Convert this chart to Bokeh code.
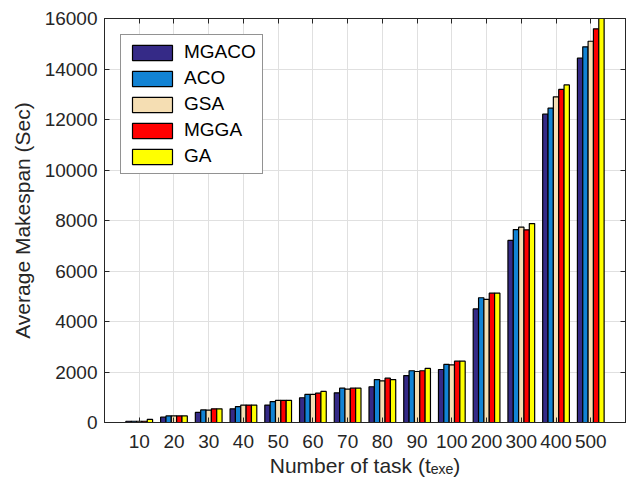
from bokeh.plotting import figure
from bokeh.models import (FixedTicker, LinearAxis, Legend, LegendItem, Range1d)
from bokeh.embed import file_html
from bokeh.resources import INLINE

categories = ["10", "20", "30", "40", "50", "60", "70", "80", "90", "100", "200", "300", "400", "500"]
series_names = ["MGACO", "ACO", "GSA", "MGGA", "GA"]
mgaco = [50, 210, 400, 540, 690, 980, 1175, 1415, 1860, 2100, 4500, 7210, 12210, 14430]
aco = [50, 260, 500, 630, 830, 1110, 1360, 1700, 2050, 2300, 4940, 7640, 12450, 14880]
gsa = [50, 260, 490, 690, 880, 1110, 1320, 1650, 2020, 2280, 4880, 7735, 12900, 15100]
mgga = [50, 260, 540, 690, 880, 1160, 1360, 1755, 2050, 2430, 5120, 7630, 13190, 15590]
ga = [120, 260, 540, 690, 880, 1230, 1360, 1700, 2140, 2430, 5120, 7880, 13370, 16100]
colors = ["#352A87", "#1283D4", "#F5DEB3", "#FF0000", "#FFFF00"]
y_ticks = [0, 2000, 4000, 6000, 8000, 10000, 12000, 14000, 16000]

FONT = "Liberation Sans"
AX = "#262626"

series = [mgaco, aco, gsa, mgga, ga]
n = len(series)
group_w = min(0.8, n / (n + 1.5))
bw = group_w / n
xpos = [i + 1 for i in range(len(categories))]

p = figure(width=627, height=486, x_range=Range1d(0, len(categories) + 1), y_range=Range1d(0, 16000),
           output_backend="svg", toolbar_location=None,
           min_border_left=104, min_border_right=2, min_border_top=18, min_border_bottom=64)

p.background_fill_color = "white"
p.border_fill_color = "white"
p.outline_line_color = AX
p.outline_line_width = 1

xt = FixedTicker(ticks=xpos)
yt = FixedTicker(ticks=y_ticks)

p.xaxis.ticker = xt
p.xaxis.major_label_overrides = {x: c for x, c in zip(xpos, categories)}
p.yaxis.ticker = yt
p.yaxis.major_label_overrides = {t: str(t) for t in y_ticks}

for ax in [p.xaxis[0], p.yaxis[0]]:
    ax.axis_line_color = AX
    ax.major_tick_line_color = AX
    ax.major_tick_in = 5
    ax.major_tick_out = 0
    ax.minor_tick_line_color = None
    ax.major_label_text_font = FONT
    ax.major_label_text_font_size = "19px"
    ax.major_label_text_color = AX
    ax.axis_label_text_font = FONT
    ax.axis_label_text_font_size = "21px"
    ax.axis_label_text_font_style = "normal"
    ax.axis_label_text_color = AX

p.xaxis.major_label_standoff = 12
p.xaxis.axis_label = "Number of task (t\u2091\u2093\u2091)"
p.xaxis.axis_label_standoff = 3
p.yaxis.major_label_standoff = 7
p.yaxis.axis_label = "Average Makespan (Sec)"
p.yaxis.axis_label_standoff = 8

top = LinearAxis(ticker=xt, major_label_overrides={x: "" for x in xpos}, major_tick_in=5, major_tick_out=0,
                 minor_tick_line_color=None, axis_line_color=AX, major_tick_line_color=AX,
                 major_label_standoff=0)
right = LinearAxis(ticker=yt, major_label_overrides={t: "" for t in y_ticks}, major_tick_in=5, major_tick_out=0,
                   minor_tick_line_color=None, axis_line_color=AX, major_tick_line_color=AX,
                   major_label_standoff=0)
p.add_layout(top, "above")
p.add_layout(right, "right")

p.xgrid.ticker = xt
p.ygrid.ticker = yt
p.xgrid.grid_line_color = "#E0E0E0"
p.ygrid.grid_line_color = "#E0E0E0"

renderers = []
for i, (vals, col) in enumerate(zip(series, colors)):
    xs = [x + (i - (n - 1) / 2) * bw for x in xpos]
    r = p.vbar(x=xs, top=vals, bottom=0, width=bw, fill_color=col, line_color="black", line_width=1.2)
    renderers.append(r)

legend = Legend(items=[LegendItem(label=nm, renderers=[r]) for nm, r in zip(series_names, renderers)],
                location="top_left", margin=16, padding=6, spacing=4,
                glyph_width=50, glyph_height=19, label_height=19, label_standoff=7,
                label_text_font=FONT, label_text_font_size="19px", label_text_color="black",
                border_line_color=AX, border_line_width=1, background_fill_color="white",
                background_fill_alpha=1)
p.add_layout(legend)

open("out.html", "w").write(file_html(p, INLINE))
